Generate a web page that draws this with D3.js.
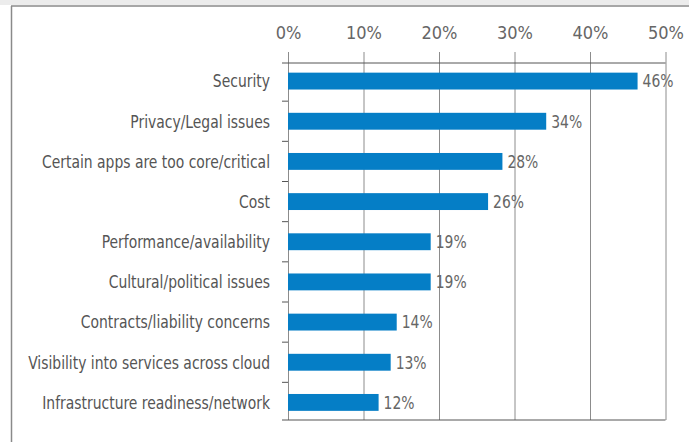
<!DOCTYPE html>
<html>
<head>
<meta charset="utf-8">
<script src="https://cdn.jsdelivr.net/npm/d3@7"></script>
<style>
  body { margin: 0; background: #fff; }
  svg { display: block; }
  text { font-family: "DejaVu Sans Condensed", "Liberation Sans Narrow", sans-serif; }
</style>
</head>
<body>
<div id="chart"></div>
<script>
// survey answers, top to bottom
let categories = [
  "Security",
  "Privacy/Legal issues",
  "Certain apps are too core/critical",
  "Cost",
  "Performance/availability",
  "Cultural/political issues",
  "Contracts/liability concerns",
  "Visibility into services across cloud",
  "Infrastructure readiness/network"
];
// bar lengths (%)
let values = [46.3, 34.2, 28.4, 26.5, 18.9, 18.9, 14.4, 13.6, 12.0];
// printed labels
let valueLabels = ["46%", "34%", "28%", "26%", "19%", "19%", "14%", "13%", "12%"];
let xTicks = [0, 10, 20, 30, 40, 50];

let W = 689, H = 442;
let x0 = 288, x1 = 665.5, axisTop = 63, axisBottom = 420;
let squeeze = 0.86; // the original font is narrower than anything installed

let svg = d3.select("#chart").append("svg")
    .attr("width", W)
    .attr("height", H);

// frame
svg.append("rect")
    .attr("x", 0).attr("y", 0)
    .attr("width", W).attr("height", 5)
    .attr("fill", "#ececec");
svg.append("line")
    .attr("x1", 11).attr("x2", W)
    .attr("y1", 6).attr("y2", 6)
    .attr("stroke", "#8a8a8a").attr("stroke-width", 1.5);
svg.append("line")
    .attr("x1", 11.5).attr("x2", 11.5)
    .attr("y1", 6).attr("y2", H)
    .attr("stroke", "#8a8a8a").attr("stroke-width", 1.5);

let xScale = d3.scaleLinear()
    .domain([0, 50])
    .range([x0, x1]);

let yScale = d3.scaleBand()
    .domain(categories)
    .range([61, 422.5])
    .paddingInner(0.58)
    .paddingOuter(0.29);

let step = yScale.step();

// gridlines + top tick labels
let xAxis = d3.axisTop(xScale)
    .tickValues(xTicks)
    .tickSize(axisBottom - 52)
    .tickFormat(d => d + "%");

svg.append("g")
    .attr("class", "xAxis")
    .attr("transform", `translate(0,${axisBottom})`)
    .call(xAxis)
    .call(g => g.select(".domain").remove())
    .call(g => g.selectAll(".tick line").attr("stroke", "#8c8c8c").attr("stroke-width", 1))
    .call(g => g.selectAll(".tick text")
        .attr("fill", "#666")
        .attr("font-size", "18px")
        .attr("y", -(axisBottom - 39))
        .attr("font-family", null));

// top & bottom horizontal axis lines
svg.append("line")
    .attr("x1", 282).attr("x2", x1)
    .attr("y1", axisTop).attr("y2", axisTop)
    .attr("stroke", "#555").attr("stroke-width", 1);
svg.append("line")
    .attr("x1", 282).attr("x2", x1)
    .attr("y1", axisBottom).attr("y2", axisBottom)
    .attr("stroke", "#555").attr("stroke-width", 1);

// category separator ticks on the left
svg.append("g")
    .selectAll("line")
    .data(categories.slice(1))
    .join("line")
    .attr("x1", 282).attr("x2", x0)
    .attr("y1", d => yScale(d) - (step - yScale.bandwidth()) / 2)
    .attr("y2", d => yScale(d) - (step - yScale.bandwidth()) / 2)
    .attr("stroke", "#555");

// bars
svg.append("g")
    .selectAll("rect")
    .data(values)
    .join("rect")
    .attr("x", x0)
    .attr("y", (d, i) => yScale(categories[i]))
    .attr("width", d => xScale(d) - x0)
    .attr("height", yScale.bandwidth())
    .attr("fill", "#057ec6");

// value labels
svg.append("g")
    .selectAll("text")
    .data(values)
    .join("text")
    .attr("transform", (d, i) =>
        `translate(${xScale(d) + 5},${yScale(categories[i]) + yScale.bandwidth() / 2}) scale(${squeeze},1)`)
    .attr("dy", "0.35em")
    .attr("font-size", "18px")
    .attr("fill", "#666")
    .text((d, i) => valueLabels[i]);

// category labels
svg.append("g")
    .selectAll("text")
    .data(categories)
    .join("text")
    .attr("transform", d =>
        `translate(270,${yScale(d) + yScale.bandwidth() / 2}) scale(${squeeze},1)`)
    .attr("dy", "0.35em")
    .attr("text-anchor", "end")
    .attr("font-size", "18px")
    .attr("fill", "#555")
    .text(d => d);
</script>
</body>
</html>
